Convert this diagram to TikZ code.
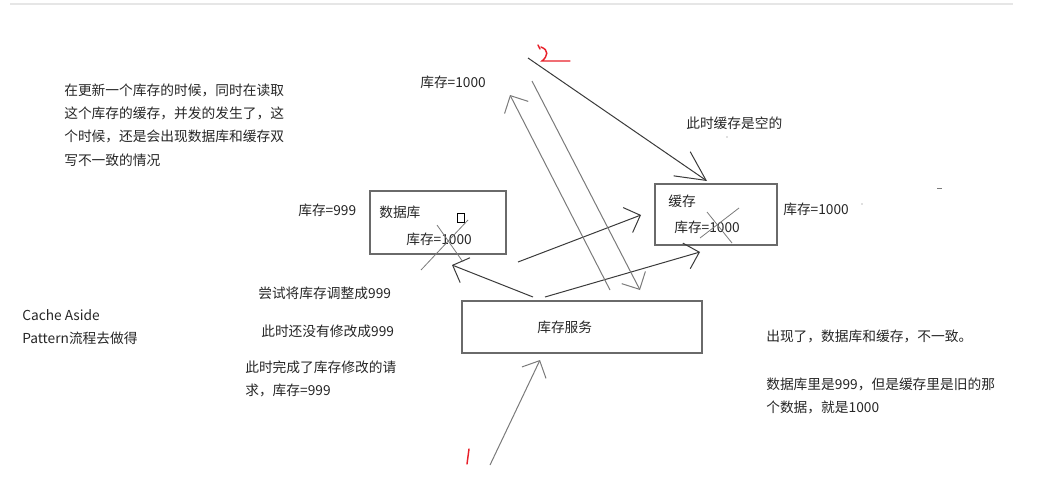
\documentclass[tikz,border=0pt]{standalone}
\usepackage{fontspec}
\setmainfont{Noto Sans CJK SC}
\usetikzlibrary{arrows.meta}
\usepackage{xcolor}
\definecolor{BoxGray}{HTML}{6A6A6A}
\definecolor{InkDark}{HTML}{3A3A3A}
\definecolor{InkGray}{HTML}{7A7A7A}
\definecolor{TextInk}{HTML}{262626}
\definecolor{MarkRed}{HTML}{E8202A}
\definecolor{RuleGray}{HTML}{E6E6E6}
\tikzset{
  box/.style={draw=BoxGray, line width=.9pt, inner sep=0pt},
  note/.style={anchor=west, inner sep=0pt, align=left, text=TextInk,
               font=\fontsize{10.3}{17.4}\selectfont},
  flow/.style={-{Straight Barb[length=10pt,width=20pt]}, line width=.75pt, InkDark},
  flowgray/.style={flow, InkGray},
  strike/.style={line width=.6pt, InkGray},
  redmark/.style={line width=1.1pt, MarkRed, line cap=round},
}

\begin{document}
\begin{tikzpicture}[x=0.75pt, y=-0.75pt]
  \useasboundingbox (0,0) rectangle (1042,489);
  \draw[RuleGray, line width=1.1pt] (10,4) -- (1013,4);

  % boxes
  \node[box, minimum width=102pt, minimum height=47.25pt] (db) at (438,222.5) {};
  \node[box, minimum width=91.5pt, minimum height=45.75pt] (cache) at (716,214.5) {};
  \node[box, minimum width=180pt, minimum height=39pt] (svc) at (582,327) {};
  \node[note] (dbTitle) at (379,212) {数据库};
  \node[note] (dbStock) at (406,239) {库存=1000};
  \node[note] (cacheTitle) at (668,201) {缓存};
  \node[note] (cacheStock) at (674,227) {库存=1000};
  \node[note] (svcName) at (537,327) {库存服务};
  \draw[line width=.5pt] (457,213) rectangle (464,222);

  % labels round the boxes
  \node[note] (topStock) at (420,82) {库存=1000};
  \node[note] (dbSide) at (298,210) {库存=999};
  \node[note] (cacheSide) at (783,209) {库存=1000};
  \node[note] (emptyNote) at (686,123) {此时缓存是空的};
  \node[note] (leftNote) at (64,125) {在更新一个库存的时候，同时在读取\\这个库存的缓存，并发的发生了，这\\个时候，还是会出现数据库和缓存双\\写不一致的情况};
  \node[note] (patternNote) at (22,327) {Cache Aside\\Pattern流程去做得};
  \node[note] (tryNote) at (258,293) {尝试将库存调整成999};
  \node[note] (notYetNote) at (261,331) {此时还没有修改成999};
  \node[note] (doneNote) at (245,378.5) {此时完成了库存修改的请\\求，库存=999};
  \node[note] (diffNote) at (766,336) {出现了，数据库和缓存，不一致。};
  \node[note] (detailNote) at (766,396) {数据库里是999，但是缓存里是旧的那\\个数据，就是1000};

  % arrow ends
  \coordinate (req) at (490,465);
  \coordinate (svcIn) at (540,360);
  \coordinate (svcOutA) at (533,297);
  \coordinate (dbHit) at (452,265);
  \coordinate (midA) at (518,262);
  \coordinate (cacheHitA) at (641,215);
  \coordinate (svcOutB) at (545,297);
  \coordinate (cacheHitB) at (700,252);
  \coordinate (readUp) at (610,290);
  \coordinate (readTop) at (510,95);
  \coordinate (backTop) at (532,81);
  \coordinate (backDown) at (640,290);
  \coordinate (writeTop) at (528,58);
  \coordinate (cacheTop) at (707,181);

  \draw[flowgray] (req) -- (svcIn);
  \draw[flow] (svcOutA) -- (dbHit);
  \draw[flow] (midA) -- (cacheHitA);
  \draw[flow] (svcOutB) -- (cacheHitB);
  \draw[flowgray] (readUp) -- (readTop);
  \draw[flowgray] (backTop) -- (backDown);
  \draw[flow, -{Straight Barb[length=22pt,width=22pt]}] (writeTop) -- (cacheTop);

  % crossed out values
  \draw[strike] (468,220) -- (421,270);
  \draw[strike] (437,225) -- (463,262);
  \draw[strike] (700,238) -- (739,208);
  \draw[strike] (707,212) -- (732,243);

  % red step marks
  \draw[redmark] (538,45) -- (540,49);
  \draw[redmark] (541,47) .. controls (549,50) and (548,56) .. (542,61) -- (570,61);
  \draw[redmark] (469,449) -- (467,464);

  % stray dots
  \fill[InkGray] (727,137) circle (0.5pt);
  \fill[InkGray] (862,204) circle (0.5pt);
  \draw[InkGray, line width=.6pt] (937,188) -- (942,188);
\end{tikzpicture}
\end{document}
